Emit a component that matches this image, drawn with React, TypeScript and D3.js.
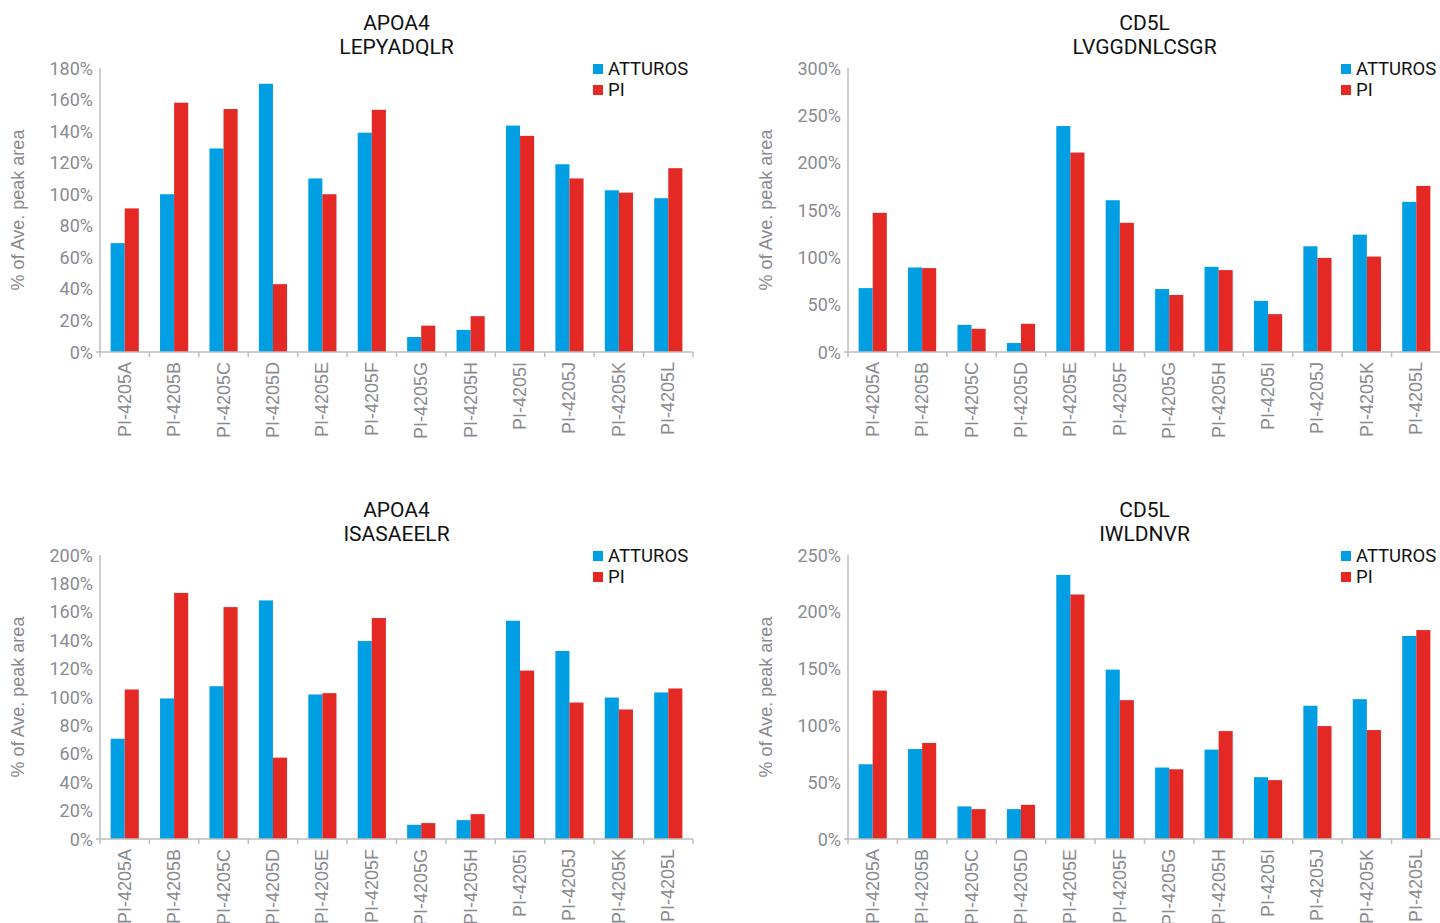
import React from 'react';
import * as d3 from 'd3';

const categories = ['PI-4205A', 'PI-4205B', 'PI-4205C', 'PI-4205D', 'PI-4205E', 'PI-4205F', 'PI-4205G', 'PI-4205H', 'PI-4205I', 'PI-4205J', 'PI-4205K', 'PI-4205L'];
const seriesNames = ['ATTUROS', 'PI'];

const lepyadqlrAtturos = [69, 100, 129, 170, 110, 139, 9.5, 14, 143.5, 119, 102.5, 97.5];
const lepyadqlrPi = [91, 158, 154, 43, 100, 153.5, 16.7, 22.7, 137, 110, 101, 116.5];

const lvggdnlcsgrAtturos = [67.5, 89.3, 28.7, 9.5, 238.7, 160.3, 66.5, 90, 54, 111.7, 124, 158.6];
const lvggdnlcsgrPi = [147, 88.6, 24.5, 29.8, 210.7, 136.5, 60.2, 86.5, 40, 99.4, 100.8, 175.4];

const isasaeelrAtturos = [70.6, 99, 107.6, 168, 101.8, 139.4, 10, 13.3, 153.7, 132.4, 99.6, 103.2];
const isasaeelrPi = [105.3, 173.3, 163.3, 57.3, 102.7, 155.6, 11.2, 17.5, 118.6, 96.1, 91.2, 106];

const iwldnvrAtturos = [65.8, 79.2, 28.7, 26.3, 232.5, 149.1, 62.9, 78.7, 54.4, 117.3, 123.1, 178.7];
const iwldnvrPi = [130.7, 84.5, 26.3, 30.1, 215.2, 122.2, 61.4, 95, 51.8, 99.4, 95.9, 183.9];

const ticksLepyadqlr = [0, 20, 40, 60, 80, 100, 120, 140, 160, 180];
const ticksLvggdnlcsgr = [0, 50, 100, 150, 200, 250, 300];
const ticksIsasaeelr = [0, 20, 40, 60, 80, 100, 120, 140, 160, 180, 200];
const ticksIwldnvr = [0, 50, 100, 150, 200, 250];

const COLORS = ['#009FE3', '#E42824'];
const AXIS = '#BDBDBD';
const TICK_TEXT = '#8A8A8F';

type PanelDef = {
  protein: string;
  peptide: string;
  atturos: number[];
  pi: number[];
  ticks: number[];
  left: number;
  top: number;
};

const panels: PanelDef[] = [
  { protein: 'APOA4', peptide: 'LEPYADQLR', atturos: lepyadqlrAtturos, pi: lepyadqlrPi, ticks: ticksLepyadqlr, left: 100, top: 68 },
  { protein: 'CD5L', peptide: 'LVGGDNLCSGR', atturos: lvggdnlcsgrAtturos, pi: lvggdnlcsgrPi, ticks: ticksLvggdnlcsgr, left: 848, top: 68 },
  { protein: 'APOA4', peptide: 'ISASAEELR', atturos: isasaeelrAtturos, pi: isasaeelrPi, ticks: ticksIsasaeelr, left: 100, top: 555 },
  { protein: 'CD5L', peptide: 'IWLDNVR', atturos: iwldnvrAtturos, pi: iwldnvrPi, ticks: ticksIwldnvr, left: 848, top: 555 },
];

const PLOT_W = 593;
const PLOT_H = 284;

function Panel({ p }: { p: PanelDef }) {
  const x0 = d3.scaleBand<string>().domain(categories).range([0, PLOT_W]).paddingInner(0.43).paddingOuter(0.215);
  const x1 = d3.scaleBand<string>().domain(seriesNames).range([0, x0.bandwidth()]);
  const maxT = p.ticks[p.ticks.length - 1];
  const y = d3.scaleLinear().domain([0, maxT]).range([PLOT_H, 0]);
  const step = x0.step();
  const values = [p.atturos, p.pi];
  const boundaries = d3.range(categories.length + 1).map((i) => i * step);

  return (
    <g transform={`translate(${p.left},${p.top})`}>
      <text x={PLOT_W / 2} y={-38.5} textAnchor="middle" fontFamily="Roboto" fontSize={21} fill="#111">{p.protein}</text>
      <text x={PLOT_W / 2} y={-14.5} textAnchor="middle" fontFamily="Roboto" fontSize={21} fill="#111">{p.peptide}</text>
      <text transform={`translate(${-82},${PLOT_H / 2}) rotate(-90)`} textAnchor="middle" dominantBaseline="central" fontFamily="Liberation Sans, Arial" fontSize={18} fill={TICK_TEXT}>% of Ave. peak area</text>
      {p.ticks.map((t) => (
        <text key={t} x={-7} y={y(t)} textAnchor="end" dominantBaseline="central" fontFamily="Roboto" fontSize={18} fill={TICK_TEXT}>{`${t}%`}</text>
      ))}
      {categories.map((c, i) => (
        <g key={c}>
          {seriesNames.map((s, si) => (
            <rect key={s} x={(x0(c) as number) + (x1(s) as number)} y={y(values[si][i])} width={x1.bandwidth()} height={PLOT_H - y(values[si][i])} fill={COLORS[si]} />
          ))}
        </g>
      ))}
      <line x1={0} x2={0} y1={0} y2={PLOT_H} stroke={AXIS} strokeWidth={1.5} />
      <line x1={-4} x2={PLOT_W} y1={PLOT_H} y2={PLOT_H} stroke={AXIS} strokeWidth={1.5} />
      {boundaries.map((b, i) => (
        <line key={i} x1={b} x2={b} y1={PLOT_H} y2={PLOT_H + 5} stroke={AXIS} strokeWidth={1.5} />
      ))}
      {categories.map((c) => {
        const cx = (x0(c) as number) + x0.bandwidth() / 2;
        return (
          <text key={c} transform={`translate(${cx},${PLOT_H + 10}) rotate(-90)`} textAnchor="end" dominantBaseline="central" fontFamily="Liberation Sans, Arial" fontSize={18} fill={TICK_TEXT}>{c}</text>
        );
      })}
      {seriesNames.map((s, si) => (
        <g key={s} transform={`translate(${PLOT_W - 100},${1 + si * 21})`}>
          <rect x={0} y={-5} width={10} height={10} fill={COLORS[si]} />
          <text x={15} y={0} dominantBaseline="central" fontFamily="Roboto" fontSize={18.5} fill="#111">{s}</text>
        </g>
      ))}
    </g>
  );
}

export default function App() {
  return (
    <svg width={1440} height={923} style={{ position: 'absolute', left: 0, top: 0, background: '#fff' }}>
      <rect width={1440} height={923} fill="#fff" />
      {panels.map((p, i) => (
        <Panel key={i} p={p} />
      ))}
    </svg>
  );
}
